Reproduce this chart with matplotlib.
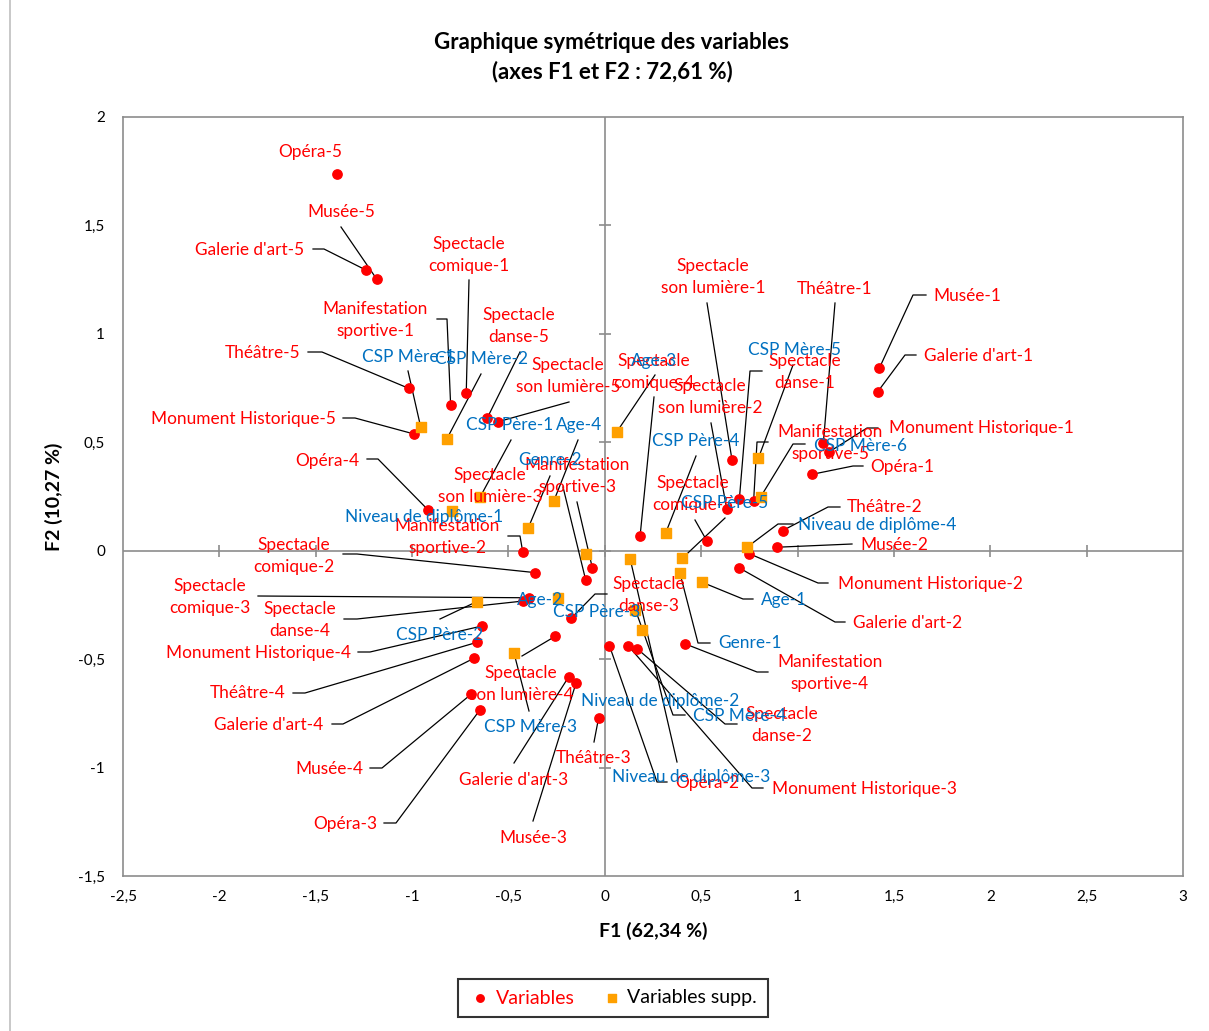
import matplotlib
matplotlib.use('Agg')
import matplotlib.pyplot as plt
from matplotlib.ticker import FuncFormatter, MultipleLocator

plt.rcParams['font.family'] = ['Lato', 'DejaVu Sans']

# coordonnées des modalités actives (F1, F2)
var_names = ['Opéra-1', 'Opéra-2', 'Opéra-3', 'Opéra-4', 'Opéra-5',
             'Musée-1', 'Musée-2', 'Musée-3', 'Musée-4', 'Musée-5',
             "Galerie d'art-1", "Galerie d'art-2", "Galerie d'art-3", "Galerie d'art-4", "Galerie d'art-5",
             'Théâtre-1', 'Théâtre-2', 'Théâtre-3', 'Théâtre-4', 'Théâtre-5',
             'Manifestation\nsportive-1', 'Manifestation\nsportive-2', 'Manifestation\nsportive-3',
             'Manifestation\nsportive-4', 'Manifestation\nsportive-5',
             'Spectacle\ncomique-1', 'Spectacle\ncomique-2', 'Spectacle\ncomique-3',
             'Spectacle\ncomique-4', 'Spectacle\ncomique-5',
             'Monument Historique-1', 'Monument Historique-2', 'Monument Historique-3',
             'Monument Historique-4', 'Monument Historique-5',
             'Spectacle\ndanse-1', 'Spectacle\ndanse-2', 'Spectacle\ndanse-3',
             'Spectacle\ndanse-4', 'Spectacle\ndanse-5',
             'Spectacle\nson lumière-1', 'Spectacle\nson lumière-2', 'Spectacle\nson lumière-3',
             'Spectacle\nson lumière-4', 'Spectacle\nson lumière-5']
var_f1 = [1.074, 0.024, -0.648, -0.917, -1.391,
          1.424, 0.892, -0.149, -0.694, -1.184,
          1.416, 0.695, -0.187, -0.679, -1.239,
          1.134, 0.923, -0.032, -0.662, -1.018,
          -0.800, -0.426, -0.065, 0.418, 0.772,
          -0.719, -0.362, -0.392, 0.183, 0.529,
          1.161, 0.750, 0.122, -0.637, -0.989,
          0.698, 0.169, -0.175, -0.423, -0.610,
          0.660, 0.633, -0.099, -0.258, -0.553]
var_f2 = [0.352, -0.438, -0.734, 0.188, 1.737,
          0.841, 0.016, -0.609, -0.662, 1.253,
          0.733, -0.078, -0.581, -0.496, 1.294,
          0.498, 0.093, -0.770, -0.422, 0.749,
          0.671, -0.005, -0.078, -0.430, 0.228,
          0.728, -0.101, -0.217, 0.068, 0.046,
          0.454, -0.014, -0.439, -0.347, 0.538,
          0.237, -0.453, -0.312, -0.232, 0.612,
          0.418, 0.191, -0.136, -0.395, 0.595]

# modalités supplémentaires
sup_names = ['Age-1', 'Age-2', 'Age-3', 'Age-4', 'Genre-1', 'Genre-2',
             'CSP Père-1', 'CSP Père-2', 'CSP Père-3', 'CSP Père-4', 'CSP Père-5',
             'CSP Mère-1', 'CSP Mère-2', 'CSP Mère-3', 'CSP Mère-4', 'CSP Mère-5', 'CSP Mère-6',
             'Niveau de diplôme-1', 'Niveau de diplôme-2', 'Niveau de diplôme-3', 'Niveau de diplôme-4']
sup_f1 = [0.506, -0.244, 0.063, -0.264, 0.390, -0.397,
          -0.648, -0.665, -0.098, 0.315, 0.403,
          -0.955, -0.820, -0.471, 0.159, 0.797, 0.809,
          -0.795, 0.191, 0.131, 0.736]
sup_f2 = [-0.146, -0.217, 0.549, 0.231, -0.104, 0.106,
          0.246, -0.235, -0.015, 0.080, -0.034,
          0.569, 0.515, -0.473, -0.273, 0.427, 0.249,
          0.184, -0.366, -0.036, 0.015]

# placement des étiquettes (pixels de l'image) et points d'ancrage des traits de rappel
label_layout = {
    'Opéra-5': (310, 152, []),
    'Musée-5': (341, 212, [(341, 227)]),
    "Galerie d'art-5": (250, 250, [(313, 249), (324, 249)]),
    'Théâtre-5': (263, 353, [(308, 352), (322, 352)]),
    'Manifestation\nsportive-1': (375, 320, [(437, 319), (447, 319)]),
    'Spectacle\ncomique-1': (469, 255, [(469, 280)]),
    'Monument Historique-5': (243, 419, [(343, 418), (355, 418)]),
    'Spectacle\ndanse-5': (519, 326, [(520, 352)]),
    'Spectacle\nson lumière-5': (568, 376, [(569, 402)]),
    'Opéra-4': (327, 461, [(367, 459), (378, 459)]),
    'Manifestation\nsportive-2': (447, 537, [(508, 536), (520, 536)]),
    'Spectacle\ncomique-2': (294, 556, [(343, 554), (357, 554)]),
    'Manifestation\nsportive-3': (577, 476, [(577, 502)]),
    'Spectacle\nson lumière-3': (490, 486, [(563, 487)]),
    'Spectacle\ncomique-3': (210, 597, [(258, 596)]),
    'Spectacle\ndanse-4': (300, 620, [(344, 619), (357, 619)]),
    'Spectacle\ndanse-3': (649, 595, [(607, 594), (595, 594)]),
    'Monument Historique-4': (258, 653, [(358, 652), (370, 652)]),
    'Théâtre-4': (248, 693, [(293, 693), (305, 693)]),
    "Galerie d'art-4": (269, 725, [(332, 724), (343, 724)]),
    'Spectacle\nson lumière-4': (521, 684, [(522, 656)]),
    'Musée-4': (329, 769, [(370, 768), (382, 768)]),
    'Opéra-3': (345, 824, [(384, 823), (396, 823)]),
    "Galerie d'art-3": (514, 780, [(514, 763)]),
    'Musée-3': (533, 838, [(533, 821)]),
    'Théâtre-3': (594, 758, [(594, 742)]),
    'Opéra-2': (707, 783, [(667, 782), (657, 782)]),
    'Monument Historique-3': (864, 789, [(763, 788), (752, 788)]),
    'Spectacle\ndanse-2': (782, 725, [(737, 724), (725, 724)]),
    'Manifestation\nsportive-4': (830, 673, [(768, 672), (757, 672)]),
    "Galerie d'art-2": (908, 623, [(845, 622), (835, 622)]),
    'Monument Historique-2': (930, 584, [(828, 583), (818, 583)]),
    'Musée-2': (894, 545, [(852, 544)]),
    'Théâtre-2': (885, 507, [(840, 507), (828, 507)]),
    'Spectacle\ncomique-5': (693, 494, [(695, 520)]),
    'Spectacle\ncomique-4': (654, 372, [(654, 397)]),
    'Spectacle\nson lumière-2': (710, 397, [(711, 423)]),
    'Spectacle\nson lumière-1': (713, 277, [(707, 303)]),
    'Théâtre-1': (835, 289, [(835, 303)]),
    'Spectacle\ndanse-1': (805, 372, [(762, 371), (750, 371)]),
    'Manifestation\nsportive-5': (830, 443, [(768, 442), (757, 442)]),
    'Monument Historique-1': (981, 428, [(878, 428), (867, 428)]),
    'Opéra-1': (902, 467, [(863, 466), (853, 466)]),
    'Musée-1': (967, 296, [(926, 295), (913, 295)]),
    "Galerie d'art-1": (979, 356, [(916, 355), (905, 355)]),
    'CSP Mère-1': (408, 357, [(408, 371)]),
    'CSP Mère-2': (481, 359, [(481, 374)]),
    'CSP Père-1': (510, 425, [(511, 440)]),
    'Age-4': (579, 425, [(578, 440)]),
    'Age-3': (654, 361, [(655, 375)]),
    'Genre-2': (550, 460, [(550, 476)]),
    'Niveau de diplôme-1': (424, 517, []),
    'CSP Père-4': (696, 441, [(696, 456)]),
    'CSP Mère-5': (795, 350, [(793, 365)]),
    'CSP Mère-6': (860, 446, [(805, 444), (793, 444)]),
    'CSP Père-5': (725, 503, [(725, 518)]),
    'Niveau de diplôme-4': (877, 525, [(793, 524), (778, 524)]),
    'Age-1': (784, 600, [(753, 599), (743, 599)]),
    'Genre-1': (750, 643, [(710, 643), (698, 643)]),
    'Age-2': (540, 600, []),
    'CSP Père-2': (440, 635, [(440, 619)]),
    'CSP Père-3': (597, 612, []),
    'CSP Mère-3': (530, 727, [(529, 711)]),
    'CSP Mère-4': (740, 716, [(685, 715), (673, 715)]),
    'Niveau de diplôme-2': (660, 701, []),
    'Niveau de diplôme-3': (691, 777, [(677, 762)]),
}

W, H = 1209, 1031
red = '#FF0000'
blue = '#0070C0'
orange = '#FFA000'
grey = '#8C8C8C'

fig = plt.figure(figsize=(W / 100, H / 100), dpi=100)
ax = fig.add_axes([123 / W, 1 - 876 / H, (1183 - 123) / W, (876 - 117) / H])
ax.set_xlim(-2.5, 3)
ax.set_ylim(-1.5, 2)
ax.xaxis.set_major_locator(MultipleLocator(0.5))
ax.yaxis.set_major_locator(MultipleLocator(0.5))
fmt = FuncFormatter(lambda v, p: f'{v:g}'.replace('.', ','))
ax.xaxis.set_major_formatter(fmt)
ax.yaxis.set_major_formatter(fmt)
ax.tick_params(axis='x', length=0, pad=10, labelsize=11)
ax.tick_params(axis='y', length=0, pad=13, labelsize=11)
for s in ax.spines.values():
    s.set_color(grey)
    s.set_linewidth(1.2)

# axes passant par l'origine avec graduations
ax.axhline(0, color=grey, lw=1.2, zorder=1)
ax.axvline(0, color=grey, lw=1.2, zorder=1)
xt = [t for t in ax.get_xticks() if -2.5 < t < 3]
yt = [t for t in ax.get_yticks() if -1.5 < t < 2]
ax.plot(xt, [0] * len(xt), ls='none', marker='|', ms=9, mew=1.2, color=grey, zorder=1)
ax.plot([0] * len(yt), yt, ls='none', marker='_', ms=9, mew=1.2, color=grey, zorder=1)

ax.scatter(var_f1, var_f2, s=45, color=red, marker='o', zorder=3, label='Variables')
ax.scatter(sup_f1, sup_f2, s=45, color=orange, marker='s', zorder=3, label='Variables supp.')

inv = ax.transData.inverted()


def pix(px, py):
    return inv.transform((px, H - py))


def draw_labels(names, xs, ys, color):
    for name, x, y in zip(names, xs, ys):
        cx, cy, anchors = label_layout[name]
        tx, ty = pix(cx, cy)
        ax.text(tx, ty, name, color=color, fontsize=12.4, ha='center', va='center',
                linespacing=1.45, zorder=4)
        if anchors:
            pts = [pix(a, b) for a, b in anchors] + [(x, y)]
            ax.plot([p[0] for p in pts], [p[1] for p in pts], color='black', lw=0.9, zorder=2)


draw_labels(var_names, var_f1, var_f2, red)
draw_labels(sup_names, sup_f1, sup_f2, blue)

ax.set_xlabel('F1 (62,34 %)', fontsize=14, fontweight='bold', labelpad=13)
ax.set_ylabel('F2 (10,27 %)', fontsize=14, fontweight='bold', labelpad=11)
fig.text(612 / W, 1 - 57 / H, 'Graphique symétrique des variables\n(axes F1 et F2 : 72,61 %)',
         ha='center', va='center', fontsize=16, fontweight='bold', linespacing=1.4)

leg = fig.legend(loc='center', bbox_to_anchor=(613 / W, 1 - 998 / H), ncol=2, fontsize=14,
                 frameon=True, fancybox=False, edgecolor='black', handletextpad=0.2,
                 handlelength=1.2, columnspacing=1.3, borderpad=0.55, borderaxespad=0,
                 markerscale=0.8)
leg.get_frame().set_linewidth(1.5)
leg.get_texts()[0].set_color(red)

# cadre du graphique
fig.add_artist(plt.Line2D([10 / W, 10 / W], [0, 1], color='#BFBFBF', lw=1.2))

fig.savefig('out.png', dpi=100)
plt.close()
